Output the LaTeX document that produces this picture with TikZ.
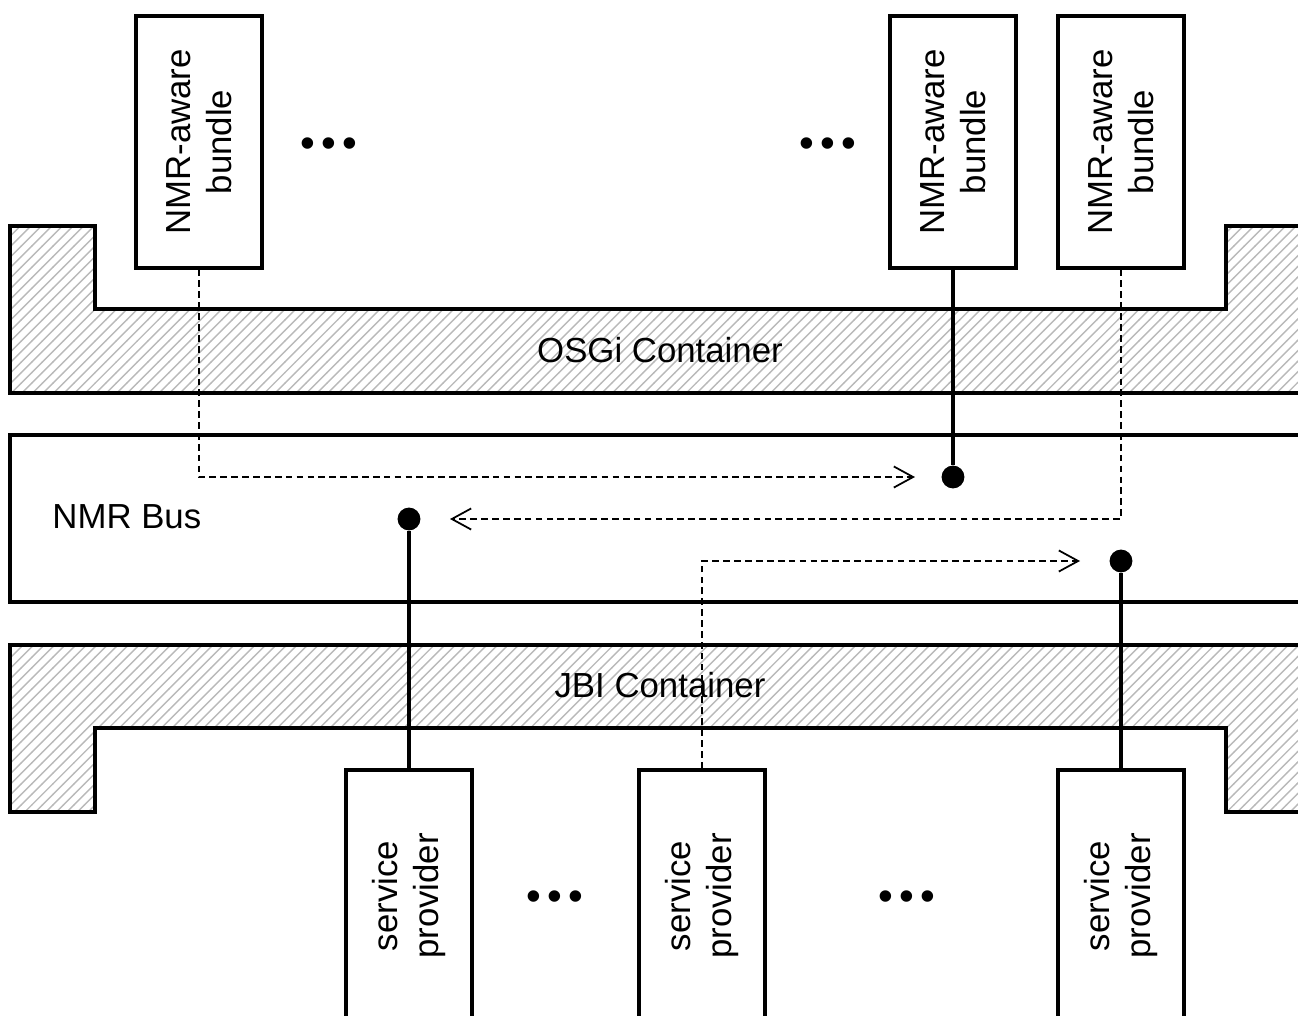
\documentclass[tikz,border=0pt]{standalone}
\usepackage{fontspec}
\setmainfont{Liberation Sans}
\usetikzlibrary{patterns,arrows.meta}

\begin{document}
\begin{tikzpicture}[
		font=\fontsize{9.9}{11.6}\selectfont,
		box/.style={draw,line width=0.9pt,fill=white,rotate=90,align=center,minimum width=2.52cm,minimum height=1.26cm,inner sep=0pt},
		container/.style={draw,line width=0.9pt,pattern=north east lines,pattern color=gray!55},
		flow/.style={line width=0.5pt,dash pattern=on 1.9pt off 1.2pt,-{Straight Barb[length=5.5pt,width=6pt]}},
		link/.style={line width=0.9pt},
		dot/.style={circle,fill,inner sep=0pt,minimum size=6.5pt},
		more/.style={font=\fontsize{12}{12}\selectfont,inner sep=0pt}
	]
		\useasboundingbox (0,0) rectangle (12.98,-10.16);
		\clip (0,0) rectangle (12.98,-10.16);
		\draw[container] (0.10,-2.26) -- (0.95,-2.26) -- (0.95,-3.09) -- (12.26,-3.09) -- (12.26,-2.26) -- (13.2,-2.26) -- (13.2,-3.93) -- (0.10,-3.93) -- cycle;
		\draw[line width=0.9pt] (0.10,-4.35) rectangle (13.2,-6.02);
		\draw[container] (0.10,-6.45) -- (13.2,-6.45) -- (13.2,-8.12) -- (12.26,-8.12) -- (12.26,-7.28) -- (0.95,-7.28) -- (0.95,-8.12) -- (0.10,-8.12) -- cycle;
		\node (osgi) at (6.60,-3.50) {OSGi Container};
		\node (jbi) at (6.60,-6.85) {JBI Container};
		\node[anchor=west] (bus) at (0.40,-5.17) {NMR Bus};

		\node[box] (b1) at (1.99,-1.42) {NMR-aware\\bundle};
		\node[box] (b2) at (9.53,-1.42) {NMR-aware\\bundle};
		\node[box] (b3) at (11.21,-1.42) {NMR-aware\\bundle};
		\node[box] (p1) at (4.09,-8.96) {service\\provider};
		\node[box] (p2) at (7.02,-8.96) {service\\provider};
		\node[box] (p3) at (11.21,-8.96) {service\\provider};
		\node[more] (m1) at (3.29,-1.48) {\textbullet\hspace{1.7pt}\textbullet\hspace{1.7pt}\textbullet};
		\node[more] (m2) at (8.28,-1.48) {\textbullet\hspace{1.7pt}\textbullet\hspace{1.7pt}\textbullet};
		\node[more] (m3) at (5.55,-9.01) {\textbullet\hspace{1.7pt}\textbullet\hspace{1.7pt}\textbullet};
		\node[more] (m4) at (9.07,-9.01) {\textbullet\hspace{1.7pt}\textbullet\hspace{1.7pt}\textbullet};

		\node[dot] (d1) at (9.53,-4.77) {};
		\node[dot] (d2) at (4.09,-5.19) {};
		\node[dot] (d3) at (11.21,-5.61) {};
		\coordinate (a1) at (9.15,-4.77);
		\coordinate (a2) at (4.50,-5.19);
		\coordinate (a3) at (10.80,-5.61);

		\draw[flow] (b1.west) |- (a1);
		\draw[flow] (b3.west) |- (a2);
		\draw[flow] (p2.east) |- (a3);
		\draw[link] (b2.west) -- (d1);
		\draw[link] (p1.east) -- (d2);
		\draw[link] (p3.east) -- (d3);
	\end{tikzpicture}
\end{document}
